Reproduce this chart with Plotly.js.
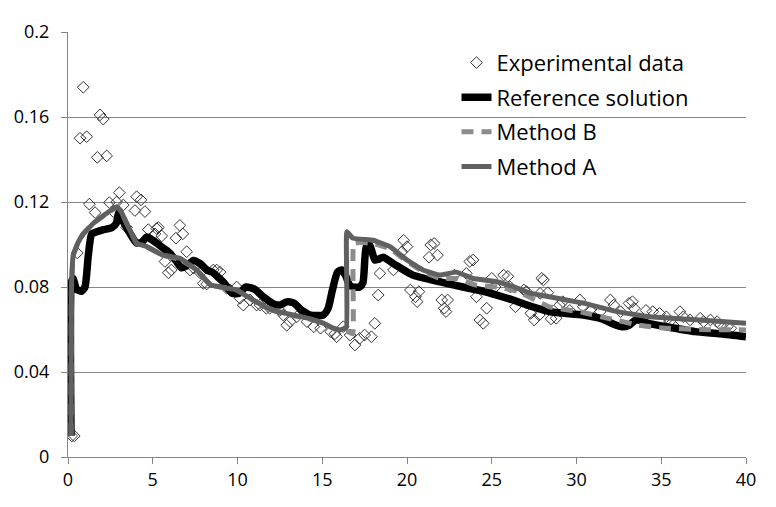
<!DOCTYPE html>
<html><head><meta charset="utf-8">
<script src="https://cdn.plot.ly/plotly-3.0.1.min.js"></script>
<style>html,body{margin:0;padding:0;background:#fff}#chart{width:776px;height:507px}</style>
</head><body><div id="chart"></div>
<script>
var seriesNames = ["Experimental data","Reference solution","Method B","Method A"];
var xTicks = [0,5,10,15,20,25,30,35,40];
var yTicks = [0,0.04,0.08,0.12,0.16,0.2];
var yTickText = ["0","0.04","0.08","0.12","0.16","0.2"];

var expX = [0.22,0.37,0.55,0.71,0.9,1.1,1.26,1.6,1.73,1.89,2.08,2.28,2.44,2.67,2.87,3.03,3.26,3.46,3.95,4.05,4.31,4.54,4.74,5.13,5.23,5.33,5.53,5.72,5.92,6.1,6.37,6.6,6.77,7.0,7.2,7.4,7.8,7.98,8.18,8.57,8.77,8.97,9.36,9.56,9.95,10.15,10.34,10.74,11.13,11.33,11.7,11.9,12.5,12.7,12.9,13.1,13.5,14.1,14.5,14.9,15.5,15.75,15.85,16.24,16.64,16.93,17.2,17.5,17.9,18.1,18.3,18.4,19.2,19.7,19.8,20.0,20.2,20.5,20.6,20.7,21.3,21.4,21.6,21.8,22.05,22.2,22.3,22.4,22.8,23.5,23.7,23.9,24.1,24.3,24.5,24.7,25.0,25.2,25.7,25.95,26.1,26.4,26.9,27.05,27.3,27.5,27.8,27.85,27.95,28.05,28.3,28.5,28.8,29.0,29.2,29.6,30.2,30.4,30.8,31.4,32.0,32.2,32.6,33.1,33.3,33.4,34.1,34.5,34.9,35.3,35.5,35.7,36.1,36.3,36.7,37.3,37.5,37.9,38.3,38.5,38.9,39.1];
var expY = [0.0099,0.0099,0.096,0.150,0.174,0.1507,0.119,0.115,0.141,0.161,0.159,0.1417,0.1197,0.1155,0.120,0.1244,0.1186,0.108,0.116,0.1225,0.121,0.1155,0.107,0.105,0.1075,0.108,0.104,0.092,0.0867,0.088,0.103,0.109,0.105,0.0966,0.088,0.089,0.0866,0.0817,0.0814,0.088,0.088,0.087,0.0794,0.0786,0.080,0.0747,0.0715,0.0739,0.0715,0.0715,0.070,0.070,0.069,0.0668,0.062,0.0637,0.066,0.0637,0.0613,0.0606,0.059,0.058,0.0566,0.0613,0.0574,0.0527,0.0558,0.0574,0.0566,0.0629,0.0762,0.0864,0.088,0.0966,0.102,0.099,0.0786,0.0754,0.0731,0.0778,0.094,0.0998,0.1005,0.095,0.0739,0.070,0.0684,0.0739,0.0856,0.0864,0.092,0.0927,0.0754,0.0645,0.0629,0.070,0.0841,0.080,0.0856,0.085,0.080,0.0707,0.0786,0.0778,0.0676,0.0645,0.0668,0.077,0.0841,0.0833,0.0773,0.065,0.0653,0.0715,0.0731,0.069,0.0739,0.0707,0.069,0.0684,0.0739,0.0715,0.0684,0.0723,0.0731,0.070,0.069,0.0684,0.0676,0.066,0.0637,0.0621,0.0684,0.066,0.0645,0.0653,0.0637,0.0645,0.0637,0.0621,0.0613,0.0606];

var refX = [0.18,0.2,0.3,0.5,0.8,1.0,1.2,1.4,1.7,2.1,2.6,2.85,3.0,3.25,3.6,4.05,4.35,4.65,5.0,5.5,6.0,6.4,6.7,7.0,7.4,7.8,8.2,8.5,8.8,9.2,9.7,10.1,10.5,11.0,11.5,12.1,12.5,12.9,13.3,13.8,14.3,15.05,15.35,15.6,15.9,16.15,16.4,16.6,16.8,17.2,17.4,17.6,17.8,18.1,18.3,18.6,19.2,20.35,21.9,23.3,24.5,25.3,26.2,27.1,28.4,30.4,31.5,32.2,32.7,33.1,33.5,34.2,35.3,37,38.5,40];
var refY = [0.01,0.082,0.084,0.079,0.078,0.080,0.095,0.105,0.106,0.107,0.108,0.110,0.115,0.111,0.106,0.1007,0.101,0.1035,0.102,0.099,0.096,0.092,0.089,0.090,0.0925,0.091,0.088,0.087,0.085,0.082,0.077,0.077,0.080,0.079,0.0755,0.0722,0.0715,0.073,0.0725,0.069,0.0668,0.0668,0.070,0.0786,0.087,0.088,0.085,0.081,0.080,0.080,0.082,0.099,0.0998,0.0927,0.093,0.094,0.091,0.0856,0.0825,0.080,0.078,0.0762,0.074,0.0715,0.0684,0.0668,0.065,0.0625,0.0613,0.062,0.0645,0.063,0.0613,0.059,0.058,0.0566];

var bX = [0.18,0.2,0.31,0.6,0.9,1.5,2.28,2.87,3.1,3.46,4.05,4.64,5.6,6.6,7.6,8.4,9.0,9.95,10.9,12.1,13.3,14.3,15.05,15.7,16.05,16.5,16.8,16.85,17.2,18.0,19.0,20.0,21.0,22.0,23.0,24.0,25.3,26.5,28.4,30.4,32.0,33.7,35.1,37.3,40];
var bY = [0.01,0.078,0.095,0.101,0.105,0.110,0.1145,0.1175,0.116,0.110,0.1005,0.099,0.095,0.093,0.088,0.081,0.080,0.0786,0.0739,0.069,0.0665,0.0648,0.063,0.0603,0.0596,0.059,0.058,0.1005,0.101,0.1005,0.098,0.092,0.087,0.084,0.084,0.081,0.080,0.078,0.0707,0.068,0.065,0.062,0.0607,0.060,0.0598];

var aX = [0.18,0.2,0.31,0.6,0.9,1.5,2.28,2.87,3.1,3.46,4.05,4.64,5.6,6.6,7.6,8.4,9.0,9.95,10.9,12.1,13.3,14.3,15.05,15.7,16.05,16.42,16.45,16.8,18.0,19.0,20.0,20.95,21.95,22.9,23.9,25.3,26.5,27.3,28.4,30.4,32.4,34.3,37.3,40];
var aY = [0.01,0.078,0.095,0.101,0.105,0.110,0.1147,0.1178,0.116,0.110,0.1005,0.099,0.095,0.0935,0.088,0.081,0.080,0.0786,0.0739,0.069,0.0668,0.065,0.063,0.0605,0.0598,0.061,0.106,0.103,0.102,0.099,0.0927,0.088,0.0856,0.087,0.084,0.0825,0.0795,0.077,0.0754,0.0724,0.0684,0.066,0.0645,0.0629];

var traces = [
  {x: expX, y: expY, name: seriesNames[0], type: 'scatter', mode: 'markers', legendgroup: 'g0',
   marker: {symbol: 'diamond-open', size: 9, color: '#333333', line: {width: 1, color: '#333333'}}},
  {x: refX, y: refY, name: seriesNames[1], type: 'scatter', mode: 'lines', legendgroup: 'g1',
   line: {color: '#000000', width: 7.5, shape: 'spline', smoothing: 0.6}},
  {x: bX, y: bY, name: seriesNames[2], type: 'scatter', mode: 'lines', legendgroup: 'g2',
   line: {color: '#8c8c8c', width: 5, dash: '12px,8px', shape: 'spline', smoothing: 0.3}},
  {x: aX, y: aY, name: seriesNames[3], type: 'scatter', mode: 'lines', legendgroup: 'g3',
   line: {color: '#606060', width: 5, shape: 'spline', smoothing: 0.3}}
];

var layout = {
  width: 776, height: 507,
  margin: {l: 68, r: 30, t: 32, b: 50, pad: 0},
  paper_bgcolor: '#ffffff', plot_bgcolor: '#ffffff',
  font: {family: 'Open Sans, sans-serif', color: '#000000', size: 18},
  showlegend: true,
  legend: {x: 0.573, xanchor: 'left', y: 0.977, yanchor: 'top', bgcolor: 'rgba(0,0,0,0)',
           font: {family: 'Open Sans, sans-serif', size: 22, color: '#000000'},
           traceorder: 'grouped', tracegroupgap: 3, itemwidth: 30},
  xaxis: {range: [0, 40], tickvals: xTicks, ticktext: xTicks.map(String), showgrid: false, zeroline: false,
          showline: true, linecolor: '#868686', linewidth: 1, ticks: 'outside', ticklen: 6, tickcolor: '#868686',
          tickfont: {size: 18}, fixedrange: true},
  yaxis: {range: [0, 0.2], tickvals: yTicks, ticktext: yTickText, showgrid: true, gridcolor: '#868686', gridwidth: 1,
          zeroline: false, showline: true, linecolor: '#868686', linewidth: 1, ticks: 'outside', ticklen: 6,
          tickcolor: '#868686', tickfont: {size: 18}, ticklabelstandoff: 8, fixedrange: true}
};
Plotly.newPlot('chart', traces, layout, {staticPlot: true, displayModeBar: false});
</script></body></html>
